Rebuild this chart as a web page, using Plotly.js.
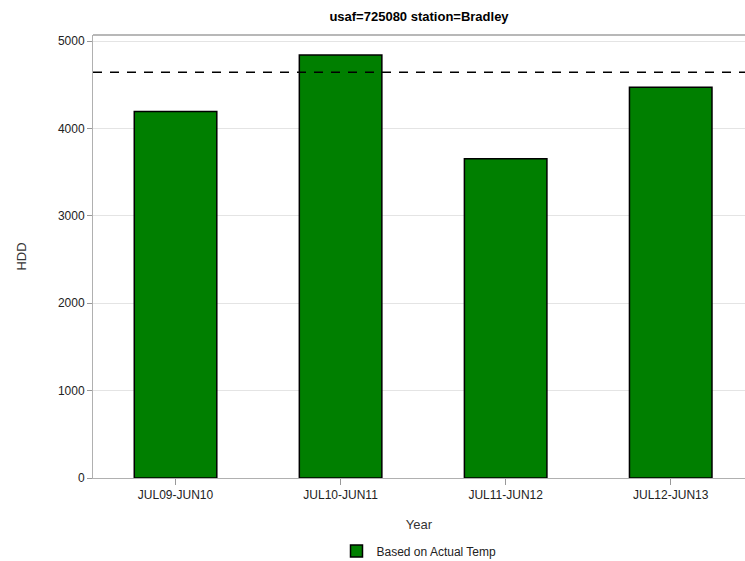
<!DOCTYPE html>
<html>
<head>
<meta charset="utf-8">
<script src="https://cdn.plot.ly/plotly-3.0.1.min.js"></script>
<style>html,body{margin:0;padding:0;background:#fff;} #chart{width:745px;height:561px;}</style>
</head>
<body>
<div id="chart"></div>
<script>
const categories = ["JUL09-JUN10", "JUL10-JUN11", "JUL11-JUN12", "JUL12-JUN13"];
const hddActual = [4195, 4840, 3655, 4472];
const normalHDD = 4643;
const seriesName = "Based on Actual Temp";
const yTicks = [0, 1000, 2000, 3000, 4000, 5000];

const font = "Liberation Sans, Arial, sans-serif";

const data = [{
  type: "bar",
  x: categories,
  y: hddActual,
  name: seriesName,
  width: 0.5,
  marker: {color: "#007f00", line: {color: "#000000", width: 1.5}},
  hoverinfo: "x+y"
}];

const layout = {
  width: 745, height: 561,
  margin: {l: 93, r: 0, t: 35, b: 83},
  paper_bgcolor: "#ffffff", plot_bgcolor: "#ffffff",
  font: {family: font, size: 12, color: "#222"},
  title: {text: "<b>usaf=725080 station=Bradley</b>", font: {family: font, size: 13, color: "#000"}, x: 0.5, xref: "paper", xanchor: "center", y: 0.97, yref: "container", yanchor: "middle"},
  bargap: 0.5,
  xaxis: {
    range: [-0.5, 3.45],
    showline: true, linecolor: "#b0b0b0", linewidth: 1,
    ticks: "outside", ticklen: 6, tickcolor: "#999",
    showgrid: false, zeroline: false, automargin: false,
    tickfont: {family: font, size: 12, color: "#222"},
    title: {text: "Year", font: {family: font, size: 13, color: "#333"}, standoff: 18}
  },
  yaxis: {
    range: [0, 5070],
    tickvals: yTicks,
    showline: true, linecolor: "#b0b0b0", linewidth: 1,
    ticks: "outside", ticklen: 5, tickcolor: "#999",
    showgrid: true, gridcolor: "#e4e4e4", gridwidth: 1,
    zeroline: false, automargin: false,
    tickfont: {family: font, size: 12, color: "#222"},
    title: {text: "HDD", font: {family: font, size: 13, color: "#333"}, standoff: 28}
  },
  shapes: [
    {type: "line", xref: "paper", yref: "paper", x0: 0, x1: 1, y0: 1, y1: 1, line: {color: "#a0a0a0", width: 1.5}},
    {type: "line", xref: "paper", yref: "y", x0: 0, x1: 1, y0: normalHDD, y1: normalHDD, line: {color: "#000", width: 1.5, dash: "9px,8px"}}
  ],
  showlegend: true,
  legend: {orientation: "h", x: 0.5, xanchor: "center", xref: "paper", y: 0.018, yref: "container", yanchor: "middle", font: {family: font, size: 12, color: "#222"}}
};

Plotly.newPlot("chart", data, layout, {displayModeBar: false, staticPlot: true});
</script>
</body>
</html>
